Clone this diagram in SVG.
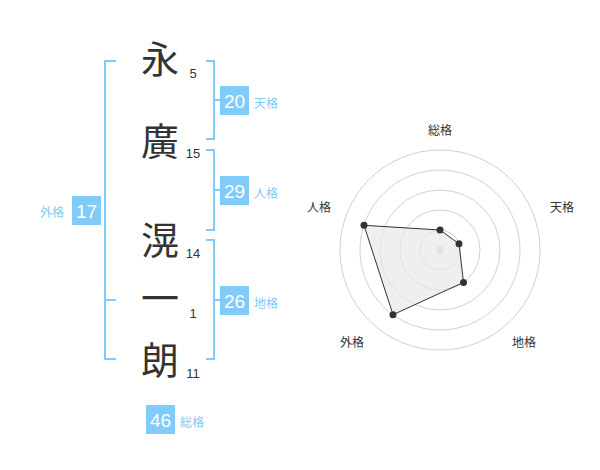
<svg xmlns="http://www.w3.org/2000/svg" width="600" height="470" viewBox="0 0 600 470">
<style>
.br{fill:none;stroke:#80cbf7;stroke-width:2}
.ch{font-family:"Noto Sans CJK JP",sans-serif;font-size:38px;fill:#333;text-anchor:middle}
.num{font-family:"Liberation Sans",Arial,sans-serif;font-size:13px;fill:#333;text-anchor:middle}
.box{fill:#80cbf7}
.bn{font-family:"Liberation Sans",Arial,sans-serif;font-size:19px;fill:#fff;text-anchor:middle}
.bl{font-family:"Noto Sans CJK JP",sans-serif;font-size:12px;fill:#80cbf7}
.ring{fill:none;stroke:#d0d0d0;stroke-width:1}
.rl{font-family:"Noto Sans CJK JP",sans-serif;font-size:12px;fill:#333;text-anchor:middle}
.dot{fill:#333}
</style>
<rect width="600" height="470" fill="#fff"/>
<g id="connectors">
<path class="br" d="M116,61 H105 V359 H116 M105,300 H116"/>
<path class="br" d="M206,61 H214 V139 H206 M214,100 H220"/>
<path class="br" d="M206,150 H214 V230 H206 M214,190 H220"/>
<path class="br" d="M206,240 H214 V359 H206 M214,300 H220"/>
</g>
<g id="char1"><text class="ch" x="160" y="73">永</text><text class="num" x="193" y="78">5</text></g>
<g id="char2"><text class="ch" x="160" y="155">廣</text><text class="num" x="193" y="158">15</text></g>
<g id="char3"><text class="ch" x="160" y="254">滉</text><text class="num" x="193" y="258">14</text></g>
<g id="char4"><text class="ch" x="160" y="312">一</text><text class="num" x="193" y="318">1</text></g>
<g id="char5"><text class="ch" x="160" y="374">朗</text><text class="num" x="193" y="378">11</text></g>
<g id="tenkaku"><rect class="box" x="220" y="86" width="29" height="29"/><text class="bn" x="234.5" y="107.5">20</text><text class="bl" x="254" y="108">天格</text></g>
<g id="jinkaku"><rect class="box" x="220" y="176" width="29" height="29"/><text class="bn" x="234.5" y="197.5">29</text><text class="bl" x="254" y="198">人格</text></g>
<g id="chikaku"><rect class="box" x="220" y="286" width="29" height="29"/><text class="bn" x="234.5" y="307.5">26</text><text class="bl" x="254" y="308">地格</text></g>
<g id="gaikaku"><rect class="box" x="72" y="196" width="29" height="29"/><text class="bn" x="86.5" y="217.5">17</text><text class="bl" x="40" y="217">外格</text></g>
<g id="soukaku"><rect class="box" x="146" y="405" width="29" height="29"/><text class="bn" x="160.5" y="426.5">46</text><text class="bl" x="180" y="427">総格</text></g>
<g id="radar">
<circle class="ring" cx="440" cy="250" r="20"/>
<circle class="ring" cx="440" cy="250" r="40"/>
<circle class="ring" cx="440" cy="250" r="60"/>
<circle class="ring" cx="440" cy="250" r="80"/>
<circle class="ring" cx="440" cy="250" r="100"/>
<circle cx="440" cy="250" r="3.5" fill="#ccc"/>
<polygon points="440,230 459,243.8 463.5,282.4 393,314.7 364,225.3" fill="#e8e8e8" fill-opacity="0.7" stroke="#333" stroke-width="1"/>
<circle class="dot" cx="440" cy="230" r="3.5"/>
<circle class="dot" cx="459" cy="243.8" r="3.5"/>
<circle class="dot" cx="463.5" cy="282.4" r="3.5"/>
<circle class="dot" cx="393" cy="314.7" r="3.5"/>
<circle class="dot" cx="364" cy="225.3" r="3.5"/>
<text class="rl" x="440" y="135">総格</text>
<text class="rl" x="562" y="212">天格</text>
<text class="rl" x="524" y="347">地格</text>
<text class="rl" x="352" y="347">外格</text>
<text class="rl" x="319" y="212">人格</text>
</g>
</svg>
